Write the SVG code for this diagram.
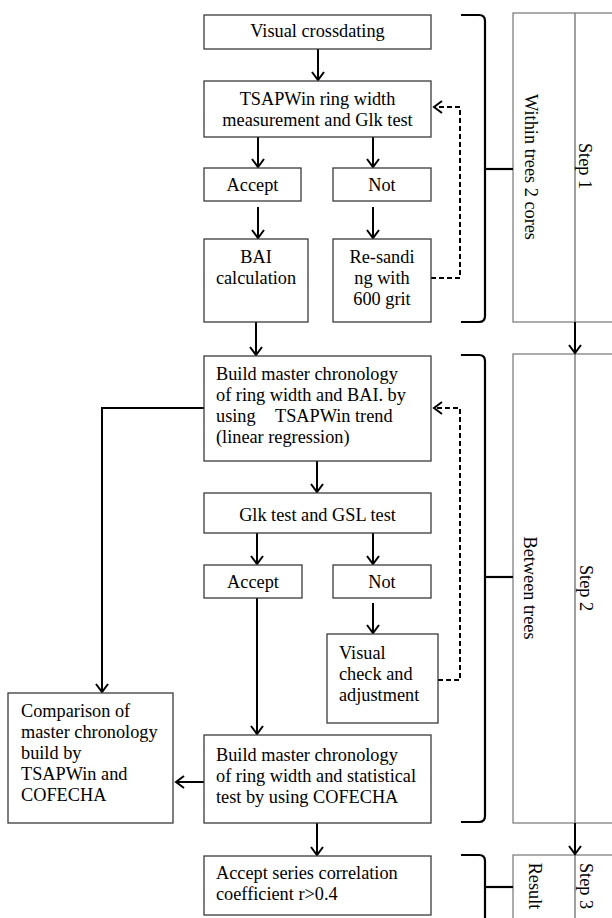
<svg xmlns="http://www.w3.org/2000/svg" width="612" height="918" viewBox="0 0 612 918">
<style>
.box{fill:#fff;stroke:#3a3a3a;stroke-width:1.3}
.step{fill:#fff;stroke:#808080;stroke-width:1.3}
.t{font-family:"Liberation Serif","Times New Roman",serif;font-size:18.3px;fill:#000}
.c{text-anchor:middle}
.r{text-anchor:middle}
.ln{fill:none;stroke:#000;stroke-width:2}
.dash{fill:none;stroke:#000;stroke-width:2;stroke-dasharray:5,3}
.br{fill:none;stroke:#000;stroke-width:2.2}
</style>
<defs>
<marker id="ah" markerUnits="userSpaceOnUse" markerWidth="20" markerHeight="20" viewBox="-10 -10 20 20" refX="0" refY="0" orient="auto">
<path d="M-8,-6 L0,0 L-8,6" fill="none" stroke="#000" stroke-width="2"/>
</marker>
</defs>

<g id="step-panels">
<rect class="step" x="513" y="13" width="110" height="309"/>
<rect class="step" x="513" y="354" width="110" height="469"/>
<rect class="step" x="513" y="855" width="110" height="80"/>
<line x1="575" y1="13" x2="575" y2="918" stroke="#808080" stroke-width="1.5"/>
<text class="t c" transform="translate(525,167) rotate(90)">Within trees 2 cores</text>
<text class="t c" transform="translate(579,166) rotate(90)">Step 1</text>
<text class="t c" transform="translate(524,588) rotate(90)">Between trees</text>
<text class="t c" transform="translate(580,588) rotate(90)">Step 2</text>
<text class="t c" transform="translate(529,886) rotate(90)">Result</text>
<text class="t c" transform="translate(580,886) rotate(90)">Step 3</text>
</g>

<g id="connectors">
<line class="ln" x1="318" y1="49" x2="318" y2="80" marker-end="url(#ah)"/>
<line class="ln" x1="258" y1="137" x2="258" y2="167" marker-end="url(#ah)"/>
<line class="ln" x1="373" y1="137" x2="373" y2="167" marker-end="url(#ah)"/>
<line class="ln" x1="258" y1="207" x2="258" y2="238" marker-end="url(#ah)"/>
<line class="ln" x1="373" y1="207" x2="373" y2="238" marker-end="url(#ah)"/>
<line class="ln" x1="256" y1="322" x2="256" y2="355" marker-end="url(#ah)"/>
<line class="ln" x1="317" y1="461" x2="317" y2="492" marker-end="url(#ah)"/>
<line class="ln" x1="257" y1="533" x2="257" y2="564" marker-end="url(#ah)"/>
<line class="ln" x1="373" y1="533" x2="373" y2="564" marker-end="url(#ah)"/>
<line class="ln" x1="373" y1="603" x2="373" y2="633" marker-end="url(#ah)"/>
<line class="ln" x1="257" y1="598" x2="257" y2="734" marker-end="url(#ah)"/>
<path class="ln" d="M204,408 H102 V692" marker-end="url(#ah)"/>
<line class="ln" x1="204" y1="782" x2="176" y2="782" marker-end="url(#ah)"/>
<line class="ln" x1="317" y1="823" x2="317" y2="855" marker-end="url(#ah)"/>
<line class="ln" x1="575" y1="322" x2="575" y2="353" marker-end="url(#ah)"/>
<line class="ln" x1="575" y1="823" x2="575" y2="854" marker-end="url(#ah)"/>
<path class="dash" d="M431,278 H460 V107 H434" marker-end="url(#ah)"/>
<path class="dash" d="M438,680 H460 V408 H434" marker-end="url(#ah)"/>
<path class="br" d="M461,15 H479 Q485,15 485,21 V316 Q485,322 479,322 H461"/>
<line class="br" x1="485" y1="169" x2="513" y2="169"/>
<path class="br" d="M461,355 H479 Q485,355 485,361 V816 Q485,822 479,822 H461"/>
<line class="br" x1="485" y1="577" x2="513" y2="577"/>
<path class="br" d="M461,855 H479 Q485,855 485,861 V920"/>
<line class="br" x1="485" y1="887" x2="513" y2="887"/>
</g>

<g id="visual-crossdating">
<rect class="box" x="204" y="15" width="227" height="34"/>
<text class="t c" x="317.5" y="37">Visual crossdating</text>
</g>
<g id="tsapwin-measurement">
<rect class="box" x="204" y="81" width="227" height="56"/>
<text class="t c" x="317.5" y="105">TSAPWin ring width</text>
<text class="t c" x="317.5" y="126">measurement and Glk test</text>
</g>
<g id="accept-1">
<rect class="box" x="204" y="168" width="97" height="33"/>
<text class="t c" x="252.5" y="191">Accept</text>
</g>
<g id="not-1">
<rect class="box" x="333" y="168" width="98" height="33"/>
<text class="t c" x="382" y="191">Not</text>
</g>
<g id="bai-calculation">
<rect class="box" x="204" y="239" width="104" height="83"/>
<text class="t c" x="256" y="263">BAI</text>
<text class="t c" x="256" y="284">calculation</text>
</g>
<g id="re-sanding">
<rect class="box" x="333" y="239" width="98" height="83"/>
<text class="t c" x="382" y="263">Re-sandi</text>
<text class="t c" x="382" y="284">ng with</text>
<text class="t c" x="382" y="305">600 grit</text>
</g>
<g id="build-master-tsapwin">
<rect class="box" x="204" y="356" width="227" height="105"/>
<text class="t" x="216" y="380">Build master chronology</text>
<text class="t" x="216" y="401">of ring width and BAI. by</text>
<text class="t" x="216" y="422">using</text>
<text class="t" x="275" y="422">TSAPWin trend</text>
<text class="t" x="216" y="443">(linear regression)</text>
</g>
<g id="glk-gsl-test">
<rect class="box" x="204" y="493" width="227" height="40"/>
<text class="t c" x="317.5" y="521">Glk test and GSL test</text>
</g>
<g id="accept-2">
<rect class="box" x="204" y="565" width="98" height="33"/>
<text class="t c" x="253" y="588">Accept</text>
</g>
<g id="not-2">
<rect class="box" x="333" y="565" width="98" height="33"/>
<text class="t c" x="382" y="588">Not</text>
</g>
<g id="visual-check">
<rect class="box" x="327" y="634" width="111" height="89"/>
<text class="t" x="339" y="659">Visual</text>
<text class="t" x="339" y="680">check and</text>
<text class="t" x="339" y="701">adjustment</text>
</g>
<g id="comparison">
<rect class="box" x="8" y="693" width="165" height="130"/>
<text class="t" x="21" y="717">Comparison of</text>
<text class="t" x="21" y="738">master chronology</text>
<text class="t" x="21" y="759">build by</text>
<text class="t" x="21" y="780">TSAPWin and</text>
<text class="t" x="21" y="801">COFECHA</text>
</g>
<g id="build-master-cofecha">
<rect class="box" x="204" y="735" width="227" height="88"/>
<text class="t" x="216" y="761">Build master chronology</text>
<text class="t" x="216" y="782">of ring width and statistical</text>
<text class="t" x="216" y="803">test by using COFECHA</text>
</g>
<g id="accept-series">
<rect class="box" x="204" y="856" width="227" height="59"/>
<text class="t" x="216" y="879">Accept series correlation</text>
<text class="t" x="216" y="900">coefficient r&gt;0.4</text>
</g>
</svg>
